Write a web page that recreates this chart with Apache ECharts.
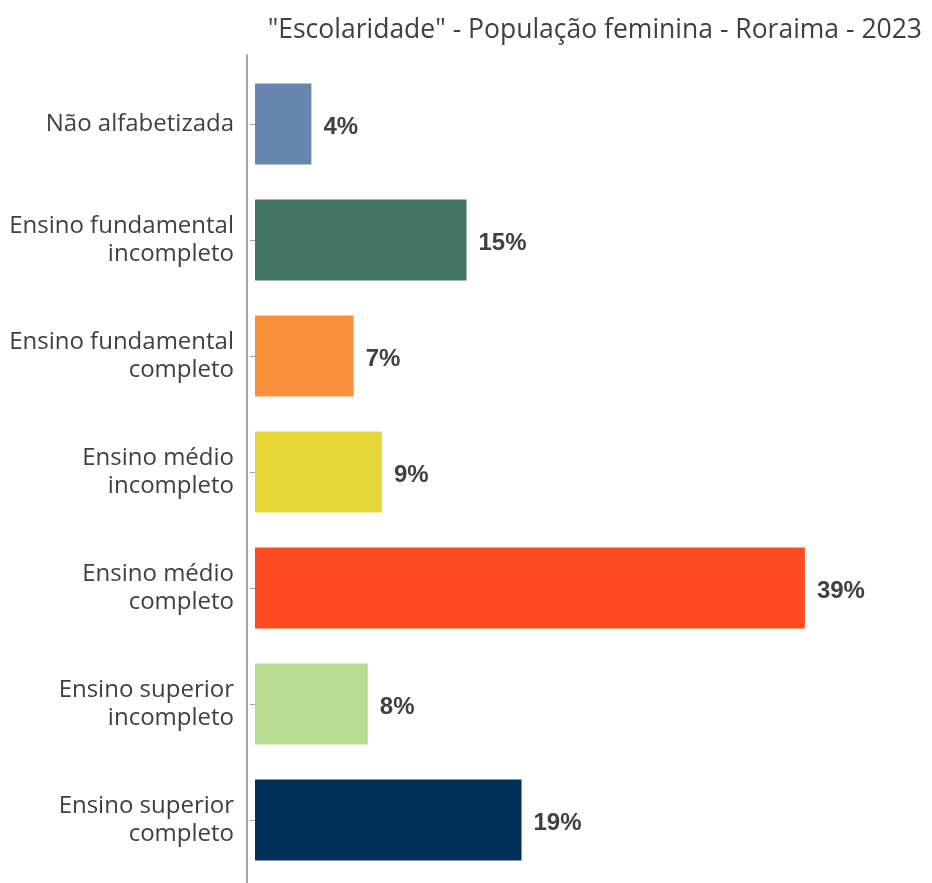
<!DOCTYPE html>
<html lang="pt">
<head>
    <meta charset="UTF-8">
    <title>Escolaridade - População feminina - Roraima - 2023</title>
    <script src="https://cdn.jsdelivr.net/npm/echarts@6/dist/echarts.min.js"></script>
    <style>
        html, body { margin: 0; padding: 0; background: #fff; }
    </style>
</head>
<body>
<div id="chart" style="width: 932px;height: 883px"></div>
<script type="text/javascript">
    // categorias (de cima para baixo)
    var categorias = [
        'Não alfabetizada',
        'Ensino fundamental\nincompleto',
        'Ensino fundamental\ncompleto',
        'Ensino médio\nincompleto',
        'Ensino médio\ncompleto',
        'Ensino superior\nincompleto',
        'Ensino superior\ncompleto'
    ];
    // percentual
    var valores = [4.0, 15.0, 7.0, 9.0, 39.0, 8.0, 18.9];
    var cores = ['#6787AF', '#437361', '#F9913C', '#E5D838', '#FF4B21', '#B8DC90', '#003057'];

    var chart = echarts.init(document.getElementById('chart'));

    var options = {
        animation: false,
        title: {
            text: '"Escolaridade" - População feminina - Roraima - 2023',
            right: 5,
            top: 12,
            textStyle: {
                fontFamily: 'Open Sans',
                fontSize: 26.5,
                fontWeight: 'normal',
                color: '#404040'
            }
        },
        grid: [
            // barras
            {left: 255, top: 66, height: 812, right: 113},
            // apenas a linha do eixo
            {left: 247, top: 55, bottom: 0, width: 10}
        ],
        xAxis: [
            {
                type: 'value',
                gridIndex: 0,
                min: 0,
                max: 40,
                show: false
            },
            {
                type: 'value',
                gridIndex: 1,
                show: false
            }
        ],
        yAxis: [
            {
                type: 'category',
                gridIndex: 0,
                inverse: true,
                offset: 8,
                data: categorias,
                axisLine: {show: false},
                axisTick: {
                    show: true,
                    alignWithLabel: true,
                    length: 5,
                    lineStyle: {color: '#A6A6A6'}
                },
                axisLabel: {
                    margin: 13,
                    fontFamily: 'Open Sans',
                    fontSize: 24,
                    lineHeight: 28,
                    color: '#404040',
                    align: 'right'
                }
            },
            {
                type: 'value',
                gridIndex: 1,
                axisLine: {show: true, lineStyle: {color: '#A6A6A6', width: 2}},
                axisTick: {show: false},
                axisLabel: {show: false},
                splitLine: {show: false}
            }
        ],
        series: [
            {
                type: 'bar',
                xAxisIndex: 0,
                yAxisIndex: 0,
                barWidth: 81,
                data: valores.map(function (v, i) {
                    return {value: v, itemStyle: {color: cores[i]}};
                }),
                label: {
                    show: true,
                    position: 'right',
                    distance: 12,
                    offset: [0, 3],
                    formatter: function (p) {
                        return Math.round(p.value) + '%';
                    },
                    fontFamily: "'Liberation Sans Narrow', 'Liberation Sans'",
                    fontWeight: 'bold',
                    fontSize: 24,
                    color: '#404040'
                }
            }
        ]
    };
    chart.setOption(options);
</script>
</body>
</html>
